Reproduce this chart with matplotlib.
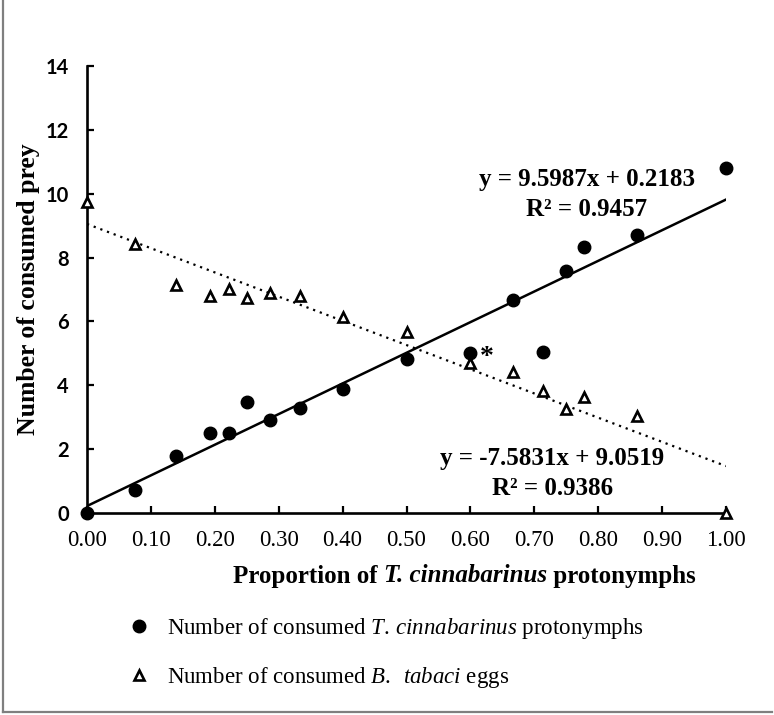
import matplotlib
matplotlib.use("Agg")
import matplotlib.pyplot as plt
from matplotlib.lines import Line2D
import numpy as np

# proportion of T. cinnabarinus protonymphs offered
prop = [0.0, 0.075, 0.14, 0.193, 0.222, 0.25, 0.286, 0.333, 0.4, 0.5,
        0.6, 0.667, 0.714, 0.75, 0.778, 0.86, 1.0]
# consumed T. cinnabarinus protonymphs
mites = [0.0, 0.72, 1.79, 2.50, 2.52, 3.47, 2.91, 3.28, 3.87, 4.81,
         5.00, 6.67, 5.05, 7.59, 8.32, 8.70, 10.80]
# consumed B. tabaci eggs
eggs = [9.75, 8.42, 7.14, 6.81, 7.01, 6.72, 6.89, 6.80, 6.15, 5.68,
        4.69, 4.43, 3.83, 3.25, 3.64, 3.05, 0.0]

fit_mites = (9.5987, 0.2183)
fit_eggs = (-7.5831, 9.0519)
r2_mites = 0.9457
r2_eggs = 0.9386
star_idx = 10  # the 0.60 point marked with *

xticks = np.arange(0, 1.01, 0.1)
yticks = np.arange(0, 15, 2)

plt.rcParams["font.family"] = "Liberation Serif"
plt.rcParams["mathtext.fontset"] = "custom"
plt.rcParams["mathtext.rm"] = "Liberation Serif"
plt.rcParams["mathtext.it"] = "Liberation Serif:italic"

W, H = 774, 715
fig = plt.figure(figsize=(W / 100, H / 100), dpi=100)
ax = fig.add_axes([87 / W, 1 - 513 / H, 639 / W, 447 / H])

ax.set_xlim(0, 1)
ax.set_ylim(0, 14)
for s in ["top", "right"]:
    ax.spines[s].set_visible(False)
for s in ["left", "bottom"]:
    ax.spines[s].set_linewidth(1.9)

xs = np.array([0.0, 1.0])
ax.plot(xs, fit_mites[0] * xs + fit_mites[1], "-", color="black", lw=1.8, zorder=2)
ax.plot(xs, fit_eggs[0] * xs + fit_eggs[1], color="black", lw=1.6,
        ls=(0, (1, 2.2)), zorder=2)

h1, = ax.plot(prop, mites, "o", color="black", ms=9, clip_on=False, zorder=4)
h2, = ax.plot(prop, eggs, "^", mfc="white", mec="black", mew=1.9, ms=7.5,
              clip_on=False, zorder=4)

ax.annotate("*", xy=(prop[star_idx], mites[star_idx]), xytext=(7, -3),
            textcoords="offset points", fontsize=20, fontweight="bold",
            ha="left", va="center")

eq = dict(ha="center", va="center", fontsize=18, fontweight="bold")
ax.text(0.782, 10.43, "y = 9.5987x + 0.2183", **eq)
ax.text(0.782, 9.49, "R² = %.4f" % r2_mites, **eq)
ax.text(0.728, 1.72, "y = -7.5831x + 9.0519", **eq)
ax.text(0.728, 0.78, "R² = %.4f" % r2_eggs, **eq)

ax.set_xticks(xticks)
ax.set_xticklabels(["%.2f" % v for v in xticks], fontsize=16.5)
ax.set_yticks(yticks)
ax.set_yticklabels(["%d" % v for v in yticks], fontsize=14.5,
                   family="Lato", fontweight="bold")
ax.tick_params(axis="both", direction="in", length=5, width=1.6)
ax.tick_params(axis="x", pad=12)
ax.tick_params(axis="y", pad=13)

ax.set_ylabel("Number of consumed prey", fontsize=18.5, fontweight="bold")
ax.yaxis.set_label_coords(-0.074, 0.5)

# x label with an italic bold species name, built from pieces
parts = [("Proportion of ", "normal"), ("T. cinnabarinus", "italic"),
         (" protonymphs", "normal")]
pieces = []
for txt, st in parts:
    if not pieces:
        t = fig.text(0.3, (H - 576) / H, txt, fontsize=18, fontweight="bold",
                     style=st, ha="left", va="center")
    else:
        t = ax.annotate(txt, xy=(1, 0), xycoords=pieces[-1], ha="left",
                        va="bottom", fontsize=18, fontweight="bold", style=st,
                        annotation_clip=False)
    pieces.append(t)

fig.canvas.draw()
r = fig.canvas.get_renderer()
x0 = pieces[0].get_window_extent(r).x0
x1 = pieces[-1].get_window_extent(r).x1
shift = 464.5 - (x0 + x1) / 2
pieces[0].set_x(pieces[0].get_position()[0] + shift / W)

leg = fig.legend([h1, h2],
                 [r"Number of consumed $\mathit{T.\,cinnabarinus}$ protonymphs",
                  r"Number of consumed $\mathit{B.\;\;tabaci}$ eggs"],
                 loc="upper left", bbox_to_anchor=(128 / W, 1 - 616 / H),
                 frameon=False, fontsize=16.5, handlelength=1.0,
                 handletextpad=0.7, labelspacing=1.05, borderpad=0,
                 borderaxespad=0, numpoints=1)

# grey frame of the original figure (left and bottom)
frame = "#7f7f7f"
fig.add_artist(Line2D([3 / W, 3 / W], [1 - 712 / H, 1], color=frame, lw=1.6))
fig.add_artist(Line2D([3 / W, 772 / W], [1 - 712 / H, 1 - 712 / H],
                      color=frame, lw=1.6))

fig.savefig("out.png", dpi=100)
